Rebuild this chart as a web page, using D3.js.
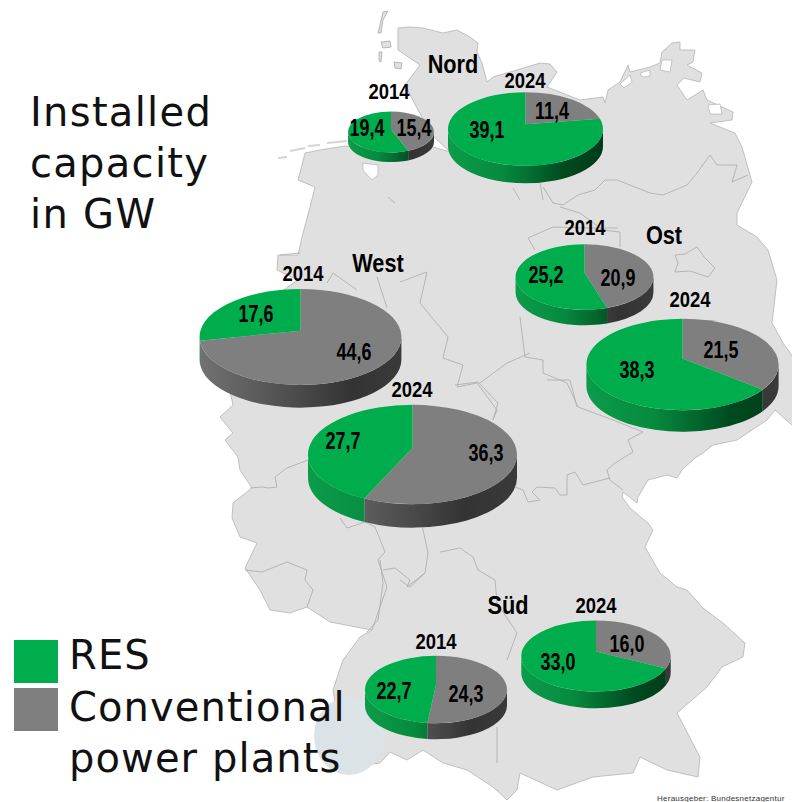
<!DOCTYPE html>
<html>
<head>
<meta charset="utf-8">
<script src="https://cdn.jsdelivr.net/npm/d3@7"></script>
<style>
  html, body { margin: 0; padding: 0; background: #fff; }
  svg { display: block; }
</style>
</head>
<body>
<script>
// Chart values
const regions = ["Nord", "West", "Ost", "Süd"];
const pieNames = ["Nord 2014", "Nord 2024", "West 2014", "West 2024", "Ost 2014", "Ost 2024", "Süd 2014", "Süd 2024"];
const resValues = [19.4, 39.1, 17.6, 27.7, 25.2, 38.3, 22.7, 33.0];
const conventionalValues = [15.4, 11.4, 44.6, 36.3, 20.9, 21.5, 24.3, 16.0];
const legendColors = ["#00ad4d", "#7f7f7f"];

// Where each pie sits on the map, and where the labels were put by hand
const pieCenters = [[391, 132], [525.5, 129], [300.5, 337], [412.5, 454.5], [584.5, 277], [682.5, 364.5], [436, 689.5], [596, 656]];
const yearLabelPos = [[389, 91], [525, 80], [303, 273], [412, 389], [585, 227], [690, 299], [436, 641], [596, 605]];
const resLabelPos = [[367, 128], [487, 130], [256, 314], [343, 441], [546, 275], [637, 370], [394, 691], [558, 662]];
const convLabelPos = [[414, 128], [552, 111], [354, 352], [486, 453], [618, 278], [721, 350], [466, 694], [627, 644]];
const regionLabelPos = [[453, 63], [378, 262], [664, 234], [508, 604]];

// Germany outline (background, not data)
const germany = [[398,28],[410,27],[423,28],[443,33],[457,30],[470,37],[478,43],[477,52],[482,63],[487,82],[493,77],[510,72],[540,63],[550,64],[557,72],[553,78],[547,87],[580,100],[603,97],[605,103],[608,90],[620,82],[628,65],[630,72],[650,67],[660,63],[662,52],[672,43],[680,42],[680,50],[695,50],[693,62],[687,65],[702,73],[700,82],[684,78],[677,85],[687,100],[703,90],[707,100],[733,112],[732,120],[710,123],[735,133],[742,147],[750,175],[752,182],[737,213],[737,225],[757,237],[768,250],[777,280],[772,323],[783,343],[795,360],[795,428],[775,410],[767,420],[737,440],[713,445],[703,453],[695,458],[682,470],[677,478],[667,475],[648,480],[638,497],[637,503],[623,492],[622,497],[630,508],[648,523],[653,530],[645,547],[660,573],[677,587],[687,590],[703,608],[723,623],[745,643],[743,657],[722,667],[707,687],[677,713],[700,757],[698,777],[667,770],[640,757],[633,773],[593,777],[557,790],[520,773],[517,790],[507,800],[493,787],[467,770],[443,763],[423,750],[407,760],[390,752],[380,763],[345,768],[333,690],[343,660],[360,637],[372,630],[330,622],[307,607],[290,613],[270,610],[260,590],[245,568],[257,543],[240,537],[232,518],[233,503],[252,488],[240,470],[238,457],[225,440],[233,433],[220,417],[233,405],[225,370],[240,320],[298,280],[277,270],[278,255],[298,255],[302,237],[310,207],[315,187],[298,180],[302,165],[305,153],[320,150],[345,146],[400,150],[430,146],[450,152],[432,135],[418,110],[405,85],[420,65],[398,50]];
const holes = [
  [[363,163],[378,165],[378,175],[372,180],[363,170]],
  [[662,60],[672,60],[670,72],[660,70]],
  [[708,105],[720,104],[722,114],[710,114]],
  [[620,84],[630,75],[632,82],[624,88]],
  [[640,73],[650,70],[650,76],[642,77]]
];
const islands = [
  [[378,33],[383,12],[388,11],[383,20],[381,33]],
  [[381,42],[390,41],[391,47],[383,48]],
  [[379,52],[382,52],[381,62],[379,61]],
  [[394,62],[402,63],[401,69],[395,68]]
];
const frisianIslands = [[[278,158],[287,157]], [[290,151],[305,148]], [[308,146],[320,145]], [[327,143],[347,141]]];
const borders = [
  [[748,175],[732,182],[737,165],[717,165],[710,155],[697,173],[687,185],[663,195],[650,193],[630,185],[617,180],[605,180],[595,190],[578,195],[563,205],[553,203],[543,187]],
  [[560,207],[580,213],[603,230],[620,232],[620,247]],
  [[535,250],[528,238],[553,227],[590,228],[618,228]],
  [[675,255],[685,254],[697,247],[705,258],[715,268],[708,277],[690,271],[675,272],[678,263],[675,255]],
  [[520,317],[525,357],[543,360],[543,373],[567,383],[578,407],[613,420],[643,432],[628,440],[633,452],[615,463],[607,470],[610,480],[623,490]],
  [[610,478],[583,485],[575,472],[567,475],[567,495],[560,495],[555,488],[537,487],[532,492],[540,500],[528,502],[523,490],[515,487]],
  [[455,385],[478,382],[498,403],[493,420]],
  [[547,380],[570,380],[577,407]],
  [[422,525],[428,553],[425,573],[410,587],[400,580]],
  [[440,552],[460,548],[473,557],[478,570],[495,580],[497,603],[517,633],[507,660]],
  [[497,727],[497,763]],
  [[380,560],[383,583],[378,620],[367,632]],
  [[383,570],[395,568],[410,580],[407,587],[425,573]],
  [[245,570],[262,572],[287,562],[307,570],[305,580],[313,590],[307,607]],
  [[308,460],[287,468],[275,477],[277,487],[268,488],[262,487],[250,488]],
  [[340,518],[347,528],[365,522],[375,527],[385,552],[378,560],[387,587],[380,607],[372,630]],
  [[280,255],[300,253]],
  [[327,283],[333,273],[357,290]],
  [[377,277],[387,308]],
  [[400,282],[427,272],[420,303],[448,337],[443,358],[463,365],[457,387],[477,383],[497,410],[493,420]],
  [[480,383],[507,363],[530,353]],
  [[540,183],[543,200]],
  [[513,188],[520,200]],
  [[388,197],[395,203]]
];

const width = 792;
const height = 802;

const svg = d3.select("body").append("svg")
    .attr("width", width)
    .attr("height", height);
const defs = svg.append("defs");

// Map
const mapLine = d3.line();
const mapG = svg.append("g");
mapG.append("path")
    .attr("d", mapLine(germany) + "Z")
    .attr("fill", "#e0e0e0")
    .attr("stroke", "#b4b4b4")
    .attr("stroke-width", 0.8);
mapG.selectAll(".hole")
    .data(holes)
    .enter()
    .append("path")
    .attr("class", "hole")
    .attr("d", d => mapLine(d) + "Z")
    .attr("fill", "#fff")
    .attr("stroke", "#a8a8a8")
    .attr("stroke-width", 0.6);
mapG.selectAll(".island")
    .data(islands)
    .enter()
    .append("path")
    .attr("class", "island")
    .attr("d", d => mapLine(d) + "Z")
    .attr("fill", "#e0e0e0")
    .attr("stroke", "#a8a8a8")
    .attr("stroke-width", 0.8);
mapG.selectAll(".frisian")
    .data(frisianIslands)
    .enter()
    .append("path")
    .attr("class", "frisian")
    .attr("d", mapLine)
    .attr("fill", "none")
    .attr("stroke", "#d4d4d4")
    .attr("stroke-width", 2.2);
mapG.selectAll(".border")
    .data(borders)
    .enter()
    .append("path")
    .attr("class", "border")
    .attr("d", mapLine)
    .attr("fill", "none")
    .attr("stroke", "#b0b0b0")
    .attr("stroke-width", 0.9);

// Pale circle under the legend
svg.append("ellipse")
    .attr("cx", 349)
    .attr("cy", 736)
    .attr("rx", 35)
    .attr("ry", 39)
    .attr("fill", "#dce3e6");

// Pie size follows the total of the pie
const radius = d3.scaleLinear()
    .domain([34.8, 47, 50.5, 64])
    .range([43, 71, 77.5, 104.5]);
const pie = d3.pie().sort(null).startAngle(0).endAngle(2 * Math.PI);

const sideStops = {
    res: [[0, "#0b9c4a"], [0.35, "#078a3e"], [0.75, "#004a20"], [1, "#003c1b"]],
    conv: [[0, "#727272"], [0.5, "#4a4a4a"], [0.75, "#333333"], [1, "#3a3a3a"]]
};

// The 3D pies were tilted with perspective: the middle sits above the ellipse centre
// and the slice angles shift with it
const tilt = 0.13;
function tiltAngle(a) {
    if (a <= 0) return 0;
    if (a >= 2 * Math.PI) return 2 * Math.PI;
    const u = Math.sin(a);
    const v = -Math.cos(a);
    const w = 1 - tilt * v;
    const x = u * Math.sqrt(1 - tilt * tilt) / w;
    const y = (v - tilt) / w;
    const t = Math.atan2(x, -y);
    return t < 0 ? t + 2 * Math.PI : t;
}

pieNames.forEach(function(name, i) {
    const values = [
        { key: "conv", value: conventionalValues[i], color: legendColors[1] },
        { key: "res", value: resValues[i], color: legendColors[0] }
    ];
    const total = resValues[i] + conventionalValues[i];
    const rx = radius(total);
    const ry = rx * 0.475;
    const depth = rx * 0.225;
    const [cx, cy] = pieCenters[i];
    const apexY = cy - ry * tilt;
    const slices = pie.value(d => d.value)(values).map(s => ({
        data: s.data,
        startAngle: tiltAngle(s.startAngle),
        endAngle: tiltAngle(s.endAngle)
    }));
    const px = a => cx + rx * Math.sin(a);
    const py = a => cy - ry * Math.cos(a);

    const g = svg.append("g").attr("class", "pie");

    // Side wall, only the front half of the ellipse shows
    slices.forEach(function(s) {
        const a0 = Math.max(s.startAngle, Math.PI / 2);
        const a1 = Math.min(s.endAngle, 3 * Math.PI / 2);
        if (a1 <= a0) return;
        const id = "side" + i + s.data.key;
        const grad = defs.append("linearGradient")
            .attr("id", id)
            .attr("gradientUnits", "userSpaceOnUse")
            .attr("x1", cx - rx).attr("x2", cx + rx)
            .attr("y1", 0).attr("y2", 0);
        sideStops[s.data.key].forEach(function(st) {
            grad.append("stop").attr("offset", st[0]).attr("stop-color", st[1]);
        });
        g.append("path")
            .attr("d", `M${px(a0)},${py(a0)}A${rx},${ry} 0 0 1 ${px(a1)},${py(a1)}`
                + `L${px(a1)},${py(a1) + depth}A${rx},${ry} 0 0 0 ${px(a0)},${py(a0) + depth}Z`)
            .attr("fill", `url(#${id})`);
    });

    // Top face
    slices.forEach(function(s) {
        const large = s.endAngle - s.startAngle > Math.PI ? 1 : 0;
        g.append("path")
            .attr("d", `M${cx},${apexY}L${px(s.startAngle)},${py(s.startAngle)}`
                + `A${rx},${ry} 0 ${large} 1 ${px(s.endAngle)},${py(s.endAngle)}Z`)
            .attr("fill", s.data.color);
    });
});

// Labels on the pies. No narrow font here, so squeeze the bold one sideways
const label = svg.append("g")
    .attr("font-family", "'Liberation Sans', Arial, sans-serif")
    .attr("font-weight", "bold")
    .attr("fill", "#000")
    .attr("text-anchor", "middle");
const comma = d3.format(".1f");

function addLabels(texts, positions, size, squeeze) {
    label.selectAll(null)
        .data(texts)
        .enter()
        .append("text")
        .attr("transform", (d, i) => `translate(${positions[i][0]},${positions[i][1]}) scale(${squeeze},1)`)
        .attr("dy", "0.36em")
        .attr("font-size", size)
        .text(d => d);
}
addLabels(resValues.map(v => comma(v).replace(".", ",")), resLabelPos, 23, 0.78);
addLabels(conventionalValues.map(v => comma(v).replace(".", ",")), convLabelPos, 23, 0.78);
addLabels(pieNames.map(n => n.split(" ")[1]), yearLabelPos, 22.5, 0.82);
addLabels(regions, regionLabelPos, 26.5, 0.82);

// Title and legend
const verdana = "'DejaVu Sans', Verdana, sans-serif";
svg.append("g")
    .attr("font-family", verdana)
    .attr("font-size", 40)
    .attr("letter-spacing", 1.3)
    .attr("fill", "#111")
    .selectAll("text")
    .data(["Installed", "capacity", "in GW"])
    .enter()
    .append("text")
    .attr("x", 30)
    .attr("y", (d, i) => [126, 177, 228][i])
    .text(d => d);

svg.selectAll(".swatch")
    .data(legendColors)
    .enter()
    .append("rect")
    .attr("class", "swatch")
    .attr("x", 14)
    .attr("y", (d, i) => [640, 688][i])
    .attr("width", 44)
    .attr("height", 43)
    .attr("fill", d => d);

svg.append("g")
    .attr("font-family", verdana)
    .attr("font-size", 40)
    .attr("letter-spacing", 1.1)
    .attr("fill", "#111")
    .selectAll("text")
    .data(["RES", "Conventional", "power plants"])
    .enter()
    .append("text")
    .attr("x", 69)
    .attr("y", (d, i) => [669, 721, 772][i])
    .text(d => d);

svg.append("text")
    .attr("x", 657)
    .attr("y", 801)
    .attr("font-family", "'Liberation Sans', Arial, sans-serif")
    .attr("font-size", 8)
    .attr("letter-spacing", 0.25)
    .attr("fill", "#333")
    .text("Herausgeber: Bundesnetzagentur");
</script>
</body>
</html>
